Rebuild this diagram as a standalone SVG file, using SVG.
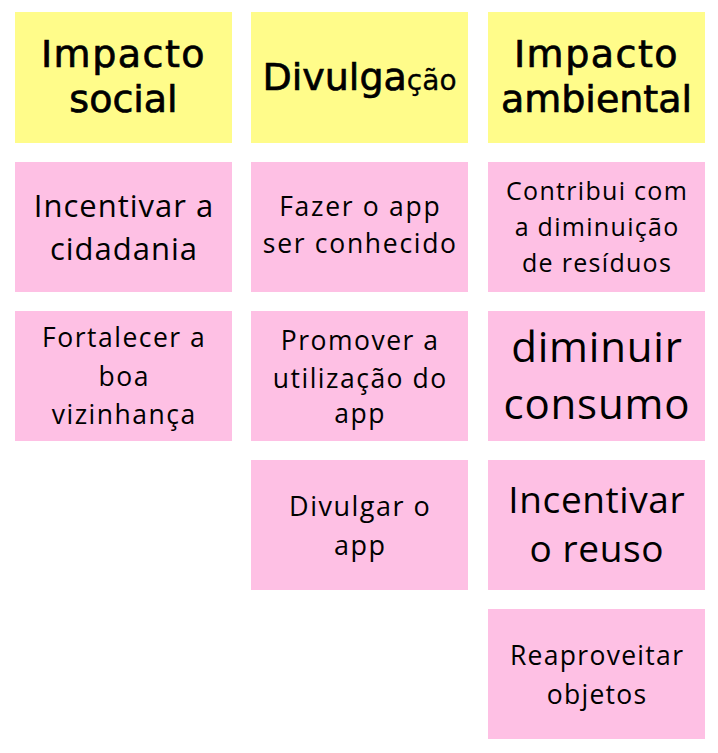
<svg xmlns="http://www.w3.org/2000/svg" width="718" height="753" viewBox="0 0 718 753">
<style>
.y{fill:#fffc8a}
.p{fill:#fec0e4}
.h{font-family:"DejaVu Sans",sans-serif;font-size:38px;fill:#000;stroke:#000;stroke-width:0.7px;text-anchor:middle}
.t{font-family:"Open Sans","Noto Sans",sans-serif;fill:#000;text-anchor:middle}
</style>
<rect width="718" height="753" fill="#fff"/>
<g id="h1"><rect class="y" x="15" y="12" width="217" height="131"/><text class="h" x="123.5" y="67" letter-spacing="1.5">Impacto</text><text class="h" x="123.5" y="112">social</text></g>
<g id="h2"><rect class="y" x="251" y="12" width="217" height="131"/><text class="h" x="359.5" y="90">Divulga<tspan style="font-size:28px;stroke-width:0.3px">ção</tspan></text></g>
<g id="h3"><rect class="y" x="488" y="12" width="217" height="131"/><text class="h" x="596.5" y="67" letter-spacing="1.5">Impacto</text><text class="h" x="596.5" y="112">ambiental</text></g>
<g id="n1"><rect class="p" x="15" y="162" width="217" height="130"/><text class="t" font-size="31" letter-spacing="1" x="124" y="217">Incentivar a</text><text class="t" font-size="31" letter-spacing="1" x="124" y="260">cidadania</text></g>
<g id="n2"><rect class="p" x="15" y="311" width="217" height="130"/><text class="t" font-size="26.5" letter-spacing="1.5" x="124.2" y="347">Fortalecer a</text><text class="t" font-size="26.5" letter-spacing="1.5" x="124.2" y="386">boa</text><text class="t" font-size="26.5" letter-spacing="1.5" x="124.2" y="424">vizinhança</text></g>
<g id="n3"><rect class="p" x="251" y="162" width="217" height="130"/><text class="t" font-size="26.5" letter-spacing="1.7" x="360.3" y="216">Fazer o app</text><text class="t" font-size="26.5" letter-spacing="1.7" x="360.3" y="253">ser conhecido</text></g>
<g id="n4"><rect class="p" x="251" y="311" width="217" height="130"/><text class="t" font-size="26.5" letter-spacing="1.5" x="360.2" y="350">Promover a</text><text class="t" font-size="26.5" letter-spacing="1.5" x="360.2" y="388">utilização do</text><text class="t" font-size="26.5" letter-spacing="1.5" x="360.2" y="423">app</text></g>
<g id="n5"><rect class="p" x="251" y="460" width="217" height="130"/><text class="t" font-size="27" letter-spacing="1.5" x="360.2" y="516">Divulgar o</text><text class="t" font-size="27" letter-spacing="1.5" x="360.2" y="555">app</text></g>
<g id="n6"><rect class="p" x="488" y="162" width="217" height="130"/><text class="t" font-size="25" letter-spacing="1.3" x="597.1" y="200">Contribui com</text><text class="t" font-size="25" letter-spacing="1.3" x="597.1" y="236">a diminuição</text><text class="t" font-size="25" letter-spacing="1.3" x="597.1" y="272">de resíduos</text></g>
<g id="n7"><rect class="p" x="488" y="311" width="217" height="130"/><text class="t" font-size="42" letter-spacing="0.8" x="596.9" y="362">diminuir</text><text class="t" font-size="42" letter-spacing="0.8" x="596.9" y="419">consumo</text></g>
<g id="n8"><rect class="p" x="488" y="460" width="217" height="130"/><text class="t" font-size="37" letter-spacing="0.6" x="596.8" y="513">Incentivar</text><text class="t" font-size="37" letter-spacing="0.6" x="596.8" y="562">o reuso</text></g>
<g id="n9"><rect class="p" x="488" y="609" width="217" height="130"/><text class="t" font-size="26.5" letter-spacing="1.3" x="597.1" y="665">Reaproveitar</text><text class="t" font-size="26.5" letter-spacing="1.3" x="597.1" y="704">objetos</text></g>
<g id="connectors"/>
</svg>
